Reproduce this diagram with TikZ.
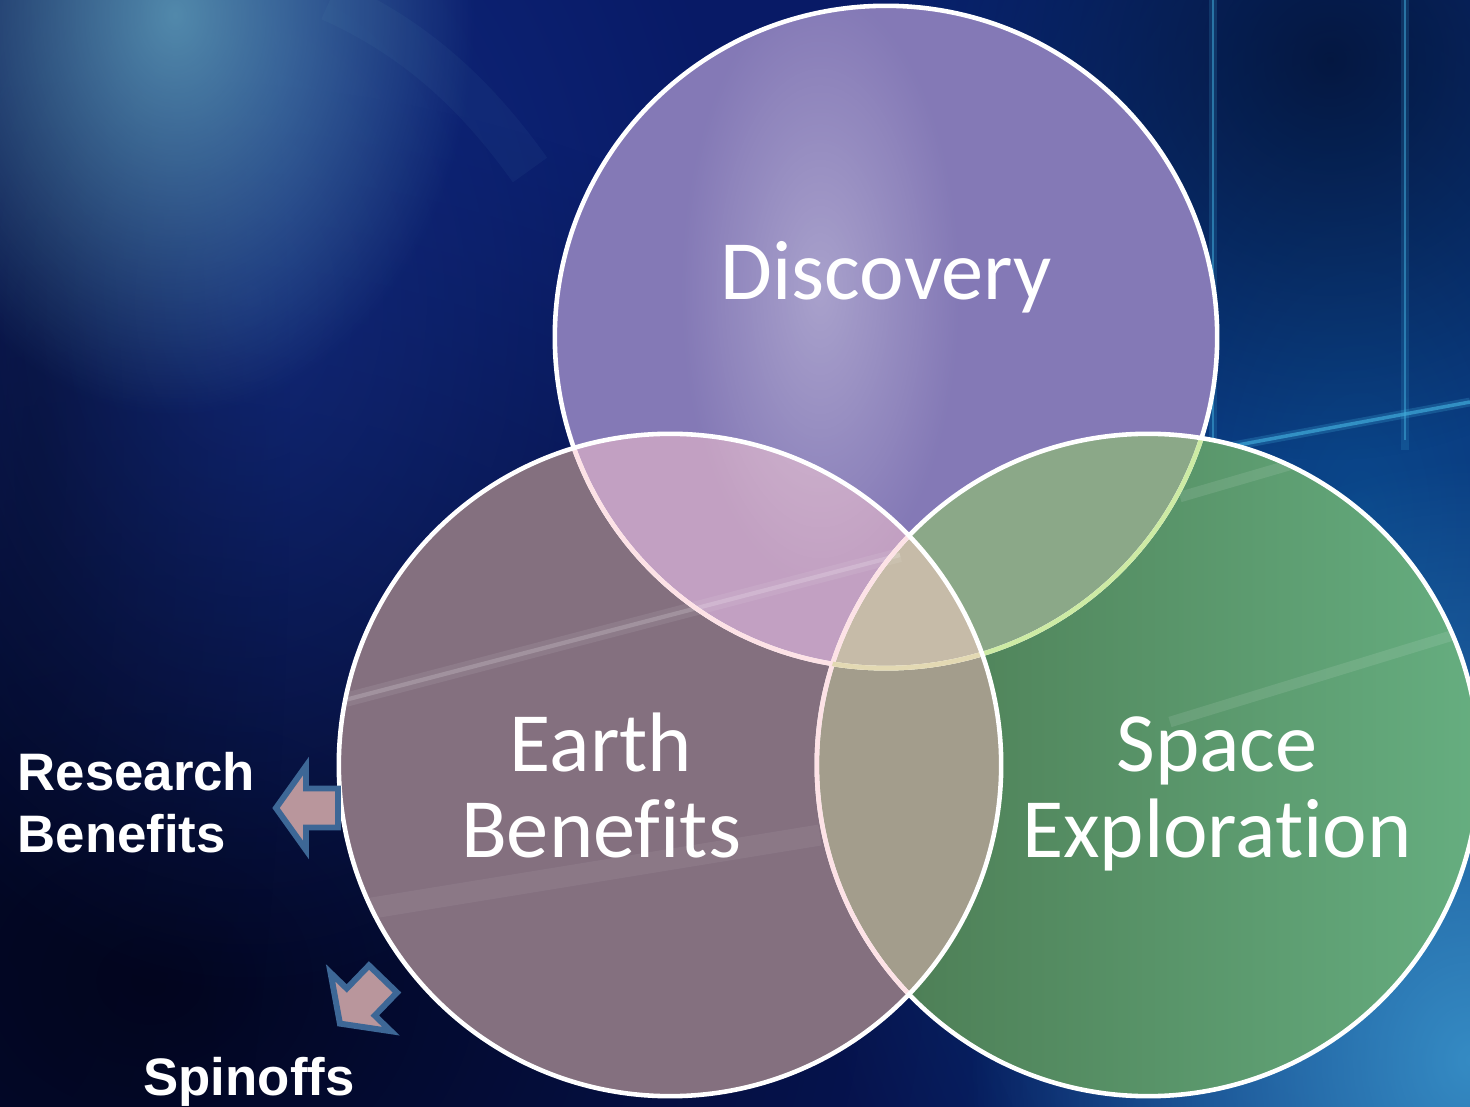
\documentclass[tikz,border=0pt]{standalone}
\usepackage{fontspec}
\setmainfont{Carlito}[Ligatures = {CommonOff}]
\newfontfamily\sidefont{Liberation Sans}[Ligatures = {CommonOff}]
\usetikzlibrary{fadings}
\definecolor{bgnavy}{HTML}{081A66}
\definecolor{bgdeep}{HTML}{02051C}
\definecolor{glowcyan}{HTML}{5E9CB8}
\definecolor{hazeblue}{HTML}{1E3E9E}
\definecolor{rightblue}{HTML}{0B4C8E}
\definecolor{cornerblue}{HTML}{3A95CC}
\definecolor{streakcyan}{HTML}{3FA8D8}
\definecolor{discfill}{HTML}{8479B6}
\definecolor{earthfill}{HTML}{84707F}
\definecolor{spacedark}{HTML}{4A7850}
\definecolor{spacelight}{HTML}{66AE80}
\definecolor{deoverlap}{HTML}{C2A0C2}
\definecolor{dsoverlap}{HTML}{8BA888}
\definecolor{esoverlap}{HTML}{A39D8C}
\definecolor{allover}{HTML}{C6BBA8}
\definecolor{rimgreen}{HTML}{CDEBA4}
\definecolor{rimpink}{HTML}{FDE2E6}
\definecolor{rimbeige}{HTML}{E3D9B3}
\definecolor{arrowfill}{HTML}{B9969C}
\definecolor{arrowline}{HTML}{3D6796}
\tikzfading[name=softglow, inner color=transparent!0, outer color=transparent!100]
\tikzset{bubble text/.style={text = white,align = center,inner sep = 0pt,font = \fontsize{24}{24.2}\selectfont},
side text/.style={text = white,inner sep = 0pt,font = \sidefont\bfseries\fontsize{15}{17.9}\selectfont},
rim/.style = {line width = 1.3pt},
glow/.style = {fill = #1,path fading = softglow},
outarrow/.pic = {\draw[draw = arrowline,fill = arrowfill,line width = 1.7pt,line join = miter]
  (0,-19.5) -- (32,-19.5) -- (32,-42) -- (62,0) -- (32,42) -- (32,19.5) -- (0,19.5) -- cycle;}}
\def\rad{3.31cm}

\begin{document}
\begin{tikzpicture}[x = .01cm,y = -.01cm]
\useasboundingbox (0,0) rectangle (1470,1107);
\clip (0,0) rectangle (1470,1107);
\fill[bgnavy] (0,0) rectangle (1470,1107);
\fill[glow = bgdeep,fill opacity = .95] (150,980) ellipse[x radius = 11cm,y radius = 9cm];
\fill[glow = bgdeep,fill opacity = .75] (40,450) ellipse[x radius = 2.5cm,y radius = 12cm];
\fill[glow = hazeblue,fill opacity = .45] (250,300) ellipse[x radius = 5cm,y radius = 7cm];
\fill[glow = glowcyan,fill opacity = .85] (175,15) ellipse[x radius = 3cm,y radius = 4cm];
\fill[glow = rightblue,fill opacity = .9] (1360,520) ellipse[x radius = 6cm,y radius = 11cm];
\fill[glow = bgdeep,fill opacity = .6] (1330,60) ellipse[x radius = 4cm,y radius = 4cm];
\fill[glow = cornerblue,fill opacity = .9] (1470,1060) ellipse[x radius = 5cm,y radius = 6cm];
\foreach \sx in {1213,1405}{
\draw[streakcyan,line width = 2.5pt,opacity = .18] (\sx,0) -- (\sx,450);
\draw[streakcyan,line width = .8pt,opacity = .55] (\sx,0) -- (\sx,440);}
\draw[streakcyan,line width = 2.5pt,opacity = .25] (1200,452) -- (1470,402);
\draw[streakcyan,line width = 1pt,opacity = .7] (1200,452) -- (1470,402);
\draw[glowcyan,line width = 12pt,opacity = .07] (330,0) .. controls (420,40) and (480,100) .. (530,170);

\coordinate (D) at (886,337);
\coordinate (E) at (670,765);
\coordinate (S) at (1148,765);

\fill[discfill] (D) circle[radius = \rad];
\shade[left color = spacedark,right color = spacelight] (S) circle[radius = \rad];
\fill[earthfill] (E) circle[radius = \rad];
\begin{scope}
\clip (E) circle[radius = \rad];
\fill[esoverlap] (S) circle[radius = \rad];
\end{scope}
\begin{scope}
\clip (D) circle[radius = \rad];
\fill[dsoverlap] (S) circle[radius = \rad];
\fill[deoverlap] (E) circle[radius = \rad];
\clip (S) circle[radius = \rad];
\fill[allover] (E) circle[radius = \rad];
\end{scope}

\begin{scope}
\clip (D) circle[radius = \rad] (E) circle[radius = \rad] (S) circle[radius = \rad];
\fill[glow = white,fill opacity = .3] (820,290) ellipse[x radius = 1.4cm,y radius = 3cm];
\draw[white,line width = 4pt,opacity = .08] (345,700) -- (900,555);
\draw[white,line width = 1.2pt,opacity = .18] (345,700) -- (900,555);
\draw[white,line width = 6pt,opacity = .06] (360,910) -- (820,835);
\draw[white,line width = 3pt,opacity = .1] (1180,497) -- (1300,462);
\draw[white,line width = 3pt,opacity = .1] (1170,722) -- (1470,630);
\end{scope}

\draw[rim,white] (D) circle[radius = \rad];
\begin{scope}
\clip (S) circle[radius = \rad];
\draw[rim,rimgreen] (D) circle[radius = \rad];
\end{scope}
\draw[rim,white] (S) circle[radius = \rad];
\begin{scope}
\clip (E) circle[radius = \rad];
\draw[rim,rimpink] (D) circle[radius = \rad];
\draw[rim,rimpink] (S) circle[radius = \rad];
\clip (S) circle[radius = \rad];
\draw[rim,rimbeige] (D) circle[radius = \rad];
\end{scope}
\draw[rim,white] (E) circle[radius = \rad];

\node[bubble text,anchor = base] (disc) at (886,300) {Discovery};
\node[bubble text,anchor = base] (earth) at (601,857) {Earth\\Benefits};
\node[bubble text,anchor = base] (space) at (1217,857) {Space\\Exploration};

\pic[rotate = 180] (resarrow) at (338,808) {outarrow};
\pic[rotate = 226] (spinarrow) at (383,979) {outarrow};

\node[side text,align = left,anchor = base west] (research) at (17,853) {Research\\Benefits};
\node[side text,anchor = base] (spinoffs) at (249,1095) {Spinoffs};
\end{tikzpicture}
\end{document}
